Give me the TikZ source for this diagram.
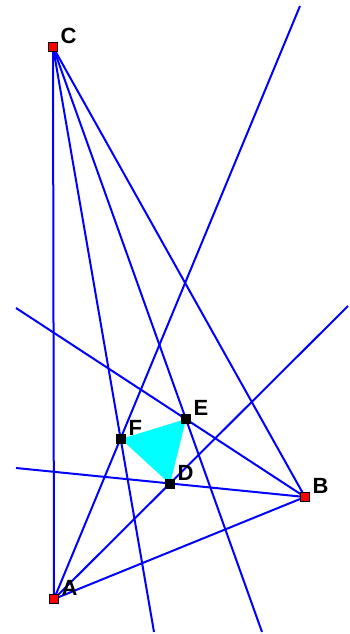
\documentclass[tikz,border=0pt]{standalone}
\usepackage{fontspec}
\setmainfont{Liberation Sans}
\usetikzlibrary{positioning}
\definecolor{lineblue}{RGB}{0,0,255}
\definecolor{aqua}{RGB}{0,255,255}
\definecolor{markred}{RGB}{255,0,0}

\begin{document}
\begin{tikzpicture}[
    x=1pt, y=-1pt,
    line/.style={draw=lineblue, line width=2pt},
    vertex/.style={draw=black, fill=markred, line width=1.6pt, minimum size=9pt, inner sep=0pt},
    mpoint/.style={draw=black, fill=black, line width=1.6pt, minimum size=9pt, inner sep=0pt},
    lbl/.style={font=\fontsize{22}{22}\selectfont\bfseries, inner sep=0pt}
]
\useasboundingbox (0,0) rectangle (349,634);
% triangle and Morley points
\coordinate (A) at (54,599);
\coordinate (B) at (305,497);
\coordinate (C) at (53,47);
\coordinate (D) at (170,484);
\coordinate (E) at (186,419);
\coordinate (F) at (121,439);
% free ends of the trisectors
\coordinate (af) at (300,6);
\coordinate (ad) at (348,306);
\coordinate (bd) at (16,468);
\coordinate (be) at (16,308);
\coordinate (cf) at (154,632);
\coordinate (ce) at (262,632);

\fill[aqua] (D) -- (E) -- (F) -- cycle;

\draw[line] (A) -- (B) -- (C) -- cycle;
\draw[line] (A) -- (af);
\draw[line] (A) -- (ad);
\draw[line] (B) -- (bd);
\draw[line] (B) -- (be);
\draw[line] (C) -- (cf);
\draw[line] (C) -- (ce);

\node[vertex] (mA) at (A) {};
\node[vertex] (mB) at (B) {};
\node[vertex] (mC) at (C) {};
\node[mpoint] (mD) at (D) {};
\node[mpoint] (mE) at (E) {};
\node[mpoint] (mF) at (F) {};

\node[lbl, above right=-2pt and 2pt of mA] (lA) {A};
\node[lbl, above right=-2pt and 2pt of mB] (lB) {B};
\node[lbl, above right=-2pt and 2pt of mC] (lC) {C};
\node[lbl, above right=-2pt and 2pt of mD] (lD) {D};
\node[lbl, above right=-2pt and 2pt of mE] (lE) {E};
\node[lbl, above right=-2pt and 2pt of mF] (lF) {F};
\end{tikzpicture}
\end{document}
